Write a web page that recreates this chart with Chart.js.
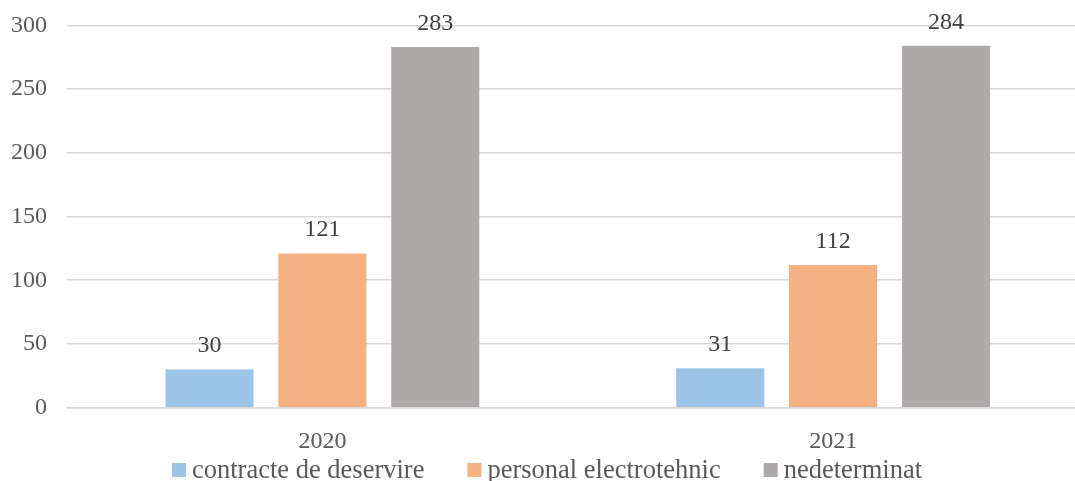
<!DOCTYPE html>
<html>
<head>
<meta charset="utf-8">
<script src="https://cdn.jsdelivr.net/npm/chart.js@4/dist/chart.umd.min.js"></script>
<style>
  html, body { margin: 0; padding: 0; background: #fff; overflow: hidden; }
  #wrap { width: 1090px; height: 481px; }
</style>
</head>
<body>
<div id="wrap"><canvas id="chart" width="1090" height="481"></canvas></div>
<script>
// values
const years = ['2020', '2021'];
const contracteDeservire = [30, 31];
const personalElectrotehnic = [121, 112];
const nedeterminat = [283, 284];
const yTicks = [0, 50, 100, 150, 200, 250, 300];

const serif = "'Liberation Serif', 'Times New Roman', serif";

// value labels above each bar
const barLabels = {
    id: 'barLabels',
    afterDatasetsDraw(chart) {
        const ctx = chart.ctx;
        ctx.save();
        ctx.font = '24px ' + serif;
        ctx.fillStyle = '#404040';
        ctx.textAlign = 'center';
        ctx.textBaseline = 'alphabetic';
        chart.data.datasets.forEach((ds, i) => {
            chart.getDatasetMeta(i).data.forEach((bar, j) => {
                ctx.fillText(ds.data[j], bar.x, bar.y - 17);
            });
        });
        ctx.restore();
    }
};

// Excel-like legend: small square, tight gap, wide spacing between items
const bottomLegend = {
    id: 'bottomLegend',
    afterDraw(chart) {
        const ctx = chart.ctx;
        const box = 14, gap = 6, spacing = 43, cy = 470;
        ctx.save();
        ctx.font = '26.5px ' + serif;
        ctx.textBaseline = 'middle';
        ctx.textAlign = 'left';
        const items = chart.data.datasets.map(ds => ({
            text: ds.label, color: ds.backgroundColor, w: ctx.measureText(ds.label).width
        }));
        const total = items.reduce((s, it) => s + box + gap + it.w, 0) + spacing * (items.length - 1);
        let x = 547 - total / 2;
        items.forEach(it => {
            ctx.fillStyle = it.color;
            ctx.fillRect(x, cy - box / 2, box, box);
            ctx.fillStyle = '#595959';
            ctx.fillText(it.text, x + box + gap, cy + 1);
            x += box + gap + it.w + spacing;
        });
        ctx.restore();
    }
};

new Chart(document.getElementById('chart'), {
    type: 'bar',
    data: {
        labels: years,
        datasets: [{
            label: 'contracte de deservire',
            data: contracteDeservire,
            backgroundColor: '#9DC3E6'
        }, {
            label: 'personal electrotehnic',
            data: personalElectrotehnic,
            backgroundColor: '#F4B183'
        }, {
            label: 'nedeterminat',
            data: nedeterminat,
            backgroundColor: '#AEAAAA'
        }]
    },
    options: {
        responsive: false,
        animation: false,
        datasets: {
            bar: { categoryPercentage: 0.663, barPercentage: 0.78 }
        },
        layout: { padding: { top: 25.3, right: 1.5, left: -9, bottom: 12.5 } },
        plugins: {
            tooltip: { enabled: false },
            legend: { display: false }
        },
        scales: {
            x: {
                grid: { display: false },
                border: { color: '#d9d9d9', width: 1.5 },
                ticks: { font: { family: serif, size: 24 }, color: '#595959', padding: 12 }
            },
            y: {
                min: 0,
                max: 300,
                afterBuildTicks(axis) { axis.ticks = yTicks.map(v => ({ value: v })); },
                afterFit(axis) { axis.paddingTop = 0; },
                grid: { color: '#d9d9d9', lineWidth: 1.5, drawTicks: false },
                border: { display: false },
                ticks: { font: { family: serif, size: 24 }, color: '#595959', padding: 20 }
            }
        }
    },
    plugins: [barLabels, bottomLegend]
});
</script>
</body>
</html>
